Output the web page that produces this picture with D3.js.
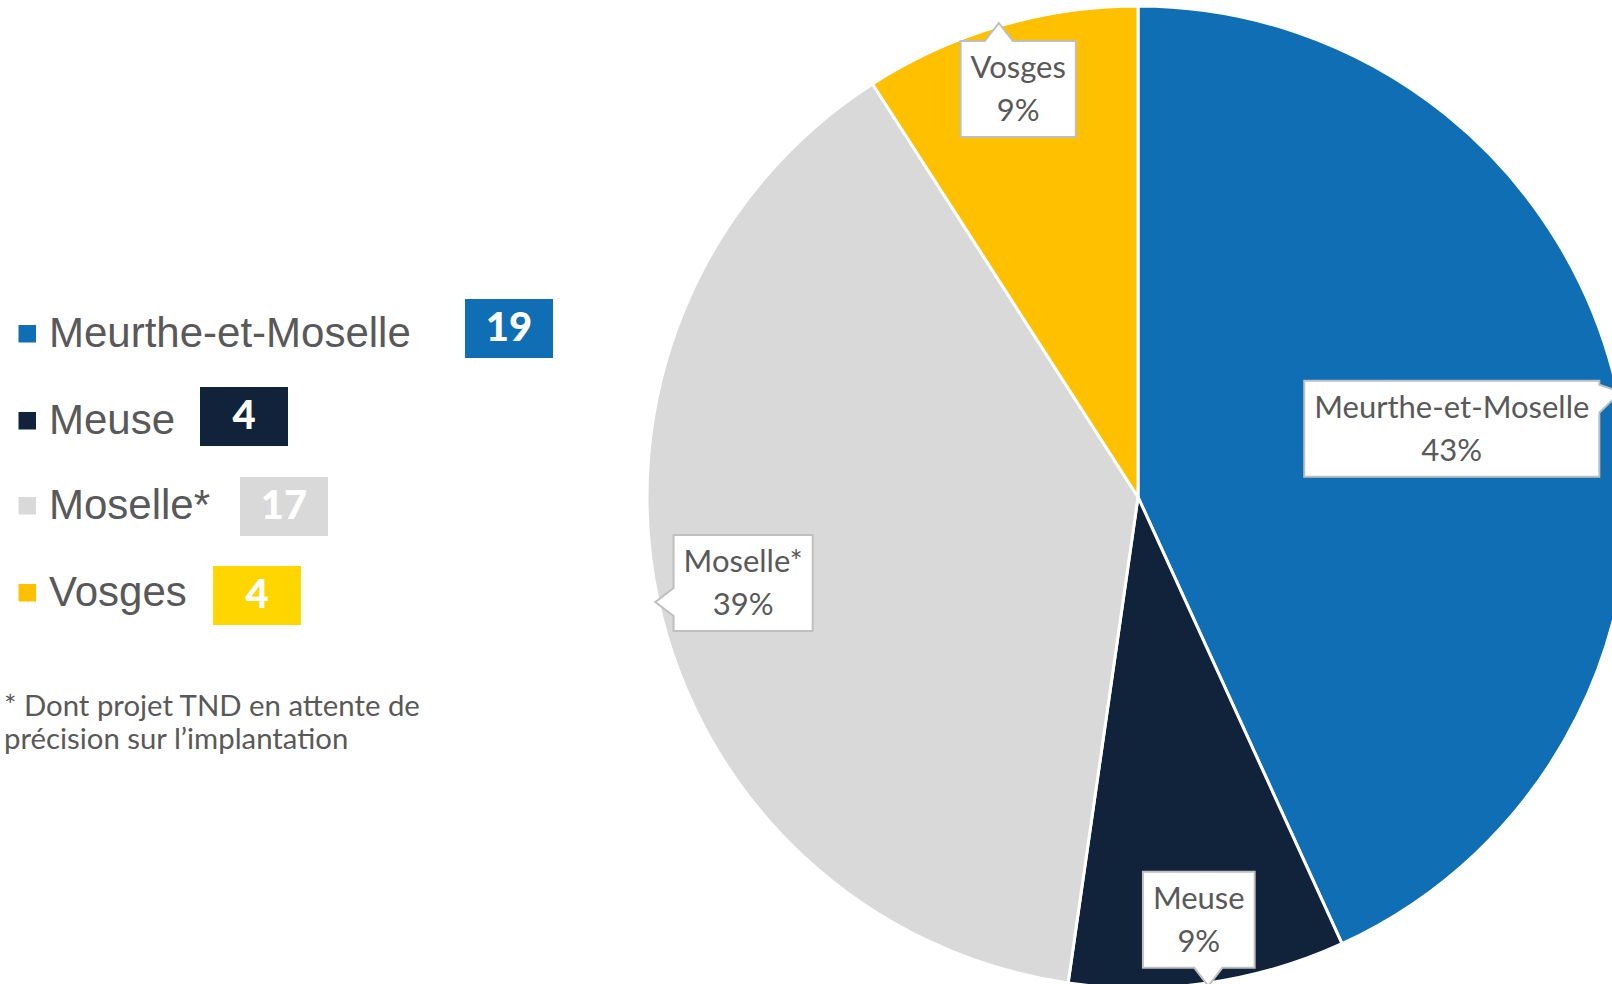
<!DOCTYPE html>
<html><head><meta charset="utf-8">
<script src="https://cdn.jsdelivr.net/npm/d3@7/dist/d3.min.js"></script>
<style>html,body{margin:0;padding:0;background:#fff;overflow:hidden}</style>
</head><body>
<svg id="chart" width="1612" height="984"></svg>
<script>
// ---- data ----
const categories = ["Meurthe-et-Moselle", "Meuse", "Moselle*", "Vosges"];
const values = [19, 4, 17, 4];
const sliceColors = ["#0f6eb4", "#10233a", "#d9d9d9", "#ffc000"];
const badgeColors = ["#0f6eb4", "#10233a", "#d9d9d9", "#ffd600"];
const footnoteLines = ["* Dont projet TND en attente de", "précision sur l’implantation"];

// ---- layout ----
const W = 1612, H = 984;
const cx = 1138, cy = 497, R = 491;
const labelRadiusFrac = [0.654, 0.87, 0.823, 0.866];
const badgeX = [465, 200, 240, 213];
const badgeY = [299, 387, 477, 566];
const legendSquareY = [325, 412, 497, 584];
const textColor = "#595959";

const svg = d3.select("#chart");
const total = d3.sum(values);

// pie
const pie = d3.pie().sort(null).value(d => d.v);
const arcs = pie(categories.map((c, i) => ({ c, v: values[i], i })));
const arc = d3.arc().innerRadius(0).outerRadius(R);
const g = svg.append("g").attr("transform", `translate(${cx},${cy})`);
g.selectAll("path.slice").data(arcs).join("path")
  .attr("class", "slice")
  .attr("d", arc)
  .attr("fill", d => sliceColors[d.data.i])
  .attr("stroke", "#fff").attr("stroke-width", 3).attr("stroke-linejoin", "round");

// helper: fit font size so that text measures target width
function fitSize(family, weight, text, target) {
  const t = svg.append("text").attr("font-family", family).attr("font-weight", weight)
    .attr("font-size", 100).text(text);
  const w = t.node().getComputedTextLength();
  t.remove();
  return 100 * target / w;
}

const labelFont = "Lato, 'Noto Sans', sans-serif";
const labelSize = Math.min(31, fitSize(labelFont, 400, "Meurthe-et-Moselle", 281));

// callouts
const lab = svg.append("g");
arcs.forEach(d => {
  const i = d.data.i;
  const mid = (d.startAngle + d.endAngle) / 2;
  const lr = R * labelRadiusFrac[i];
  const bx = cx + Math.sin(mid) * lr, by = cy - Math.cos(mid) * lr;
  const tipR = R + 3;
  const tx = cx + Math.sin(mid) * tipR, ty = cy - Math.cos(mid) * tipR;
  const pct = Math.round(d.data.v / total * 100) + "%";

  const grp = lab.append("g");
  const path = grp.append("path").attr("fill", "#fff").attr("stroke", "#bfbfbf").attr("stroke-width", 2);
  const t1 = grp.append("text").attr("x", bx).attr("text-anchor", "middle")
    .attr("font-family", labelFont).attr("font-size", labelSize).attr("fill", textColor).text(d.data.c);
  const tw = t1.node().getComputedTextLength();
  const bw = tw + 20, bh = 96;
  const x0 = bx - bw / 2, y0 = by - bh / 2, x1 = x0 + bw, y1 = y0 + bh;
  t1.attr("y", y0 + 37);
  grp.append("text").attr("x", bx).attr("y", y0 + 80).attr("text-anchor", "middle")
    .attr("font-family", labelFont).attr("font-size", labelSize).attr("fill", textColor).text(pct);

  const half = 14;
  const clamp = (v, a, b) => Math.max(a, Math.min(b, v));
  let p;
  const dxn = (tx - bx) / (bw / 2), dyn = (ty - by) / (bh / 2);
  if (Math.abs(dyn) >= Math.abs(dxn)) {
    const c = clamp(tx, x0 + half + 4, x1 - half - 4);
    if (dyn < 0) p = [[x0, y0], [c - half, y0], [tx, ty], [c + half, y0], [x1, y0], [x1, y1], [x0, y1]];
    else p = [[x0, y0], [x1, y0], [x1, y1], [c + half, y1], [tx, ty], [c - half, y1], [x0, y1]];
  } else {
    const c = clamp(ty, y0 + half + 4, y1 - half - 4);
    if (dxn < 0) p = [[x0, y0], [x1, y0], [x1, y1], [x0, y1], [x0, c + half], [tx, ty], [x0, c - half]];
    else p = [[x0, y0], [x1, y0], [x1, c - half], [tx, ty], [x1, c + half], [x1, y1], [x0, y1]];
  }
  path.attr("d", d3.line()(p) + "Z");
});

// legend
const legFont = "'Liberation Sans', Arial, sans-serif";
const leg = svg.append("g");
categories.forEach((c, i) => {
  const top = legendSquareY[i];
  leg.append("rect").attr("x", 18.5).attr("y", top).attr("width", 17.5).attr("height", 17.5).attr("fill", sliceColors[i]);
  leg.append("text").attr("x", 49).attr("y", top + 22).attr("font-family", legFont).attr("font-size", 42)
    .attr("fill", textColor).text(c);
  leg.append("rect").attr("x", badgeX[i]).attr("y", badgeY[i]).attr("width", 88).attr("height", 59).attr("fill", badgeColors[i]);
  leg.append("text").attr("x", badgeX[i] + 44).attr("y", badgeY[i] + 42).attr("text-anchor", "middle")
    .attr("font-family", "Lato, 'Liberation Sans', sans-serif").attr("font-weight", 900).attr("font-size", 40)
    .attr("fill", "#fff").text(values[i]);
});

// footnote
const fnSize = fitSize(labelFont, 400, footnoteLines[0], 416);
footnoteLines.forEach((l, k) => {
  svg.append("text").attr("x", 4).attr("y", 716 + k * 33).attr("font-family", labelFont)
    .attr("font-size", fnSize).attr("fill", textColor).text(l);
});
</script>
</body></html>
